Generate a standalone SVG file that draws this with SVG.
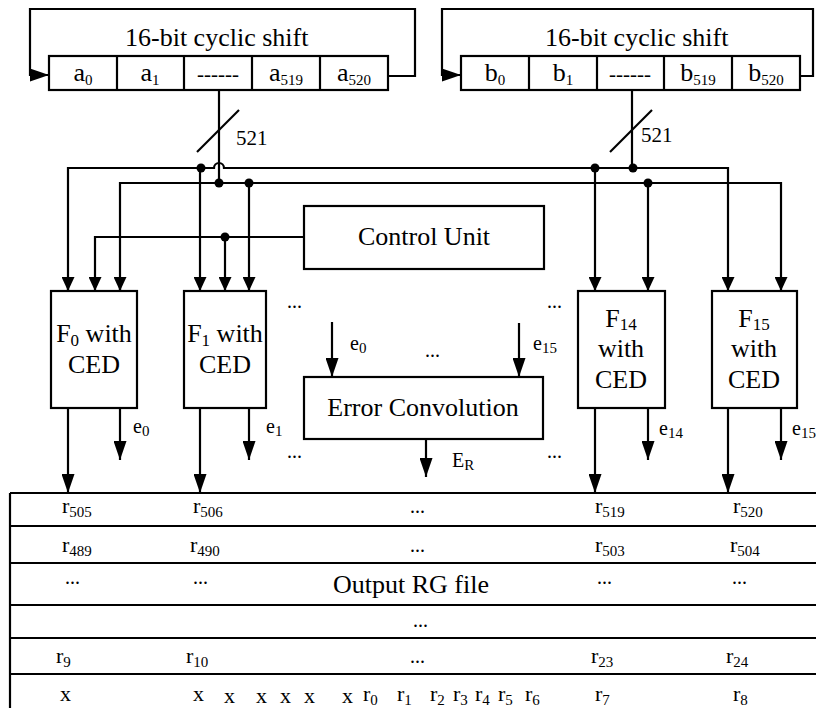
<svg xmlns="http://www.w3.org/2000/svg" width="816" height="708" viewBox="0 0 816 708">
<style>
text{font-family:"Liberation Serif","Times New Roman",serif;fill:#000}
.big{font-size:26px}
.cell{font-size:26px}
.sub{font-size:15px}
.fsub{font-size:17px}
.tb{font-size:22px}
.e{font-size:20px}
.dots{font-size:20px}
.box{fill:#fff;stroke:#000;stroke-width:2.2}
.ln{fill:none;stroke:#000;stroke-width:2.2}
.c{text-anchor:middle}
</style>
<defs>
<marker id="aS" markerUnits="userSpaceOnUse" viewBox="0 0 14 13" markerWidth="14" markerHeight="13" refX="14" refY="6.5" orient="auto"><path d="M0,0L14,6.5L0,13z" fill="#000"/></marker>
<marker id="aL" markerUnits="userSpaceOnUse" viewBox="0 0 19 13" markerWidth="19" markerHeight="13" refX="19" refY="6.5" orient="auto"><path d="M0,0L19,6.5L0,13z" fill="#000"/></marker>
</defs>
<rect width="816" height="708" fill="#fff"/>

<g id="connectors">
  <!-- register loops -->
  <path class="ln" d="M388,76H415V9H30V75H49" marker-end="url(#aL)"/>
  <path class="ln" d="M800,76H813V9H442V75H461" marker-end="url(#aL)"/>
  <!-- bus from registers -->
  <path class="ln" d="M219,90V183"/>
  <line class="ln" x1="197" y1="152" x2="239" y2="110"/>
  <path class="ln" d="M632,90V168"/>
  <line class="ln" x1="610" y1="152" x2="652" y2="110"/>
  <!-- bus line 1 (y=168) with hop -->
  <path class="ln" d="M68,291V168H214A5,5 0 0 1 224,168H728V291" marker-end="url(#aS)"/>
  <!-- bus line 2 (y=183) -->
  <path class="ln" d="M120,291V183H781V291" marker-end="url(#aS)"/>
  <!-- markers at start of the L-shaped paths handled by separate arrows -->
  <line class="ln" x1="68" y1="280" x2="68" y2="291" marker-end="url(#aS)"/>
  <line class="ln" x1="120" y1="280" x2="120" y2="291" marker-end="url(#aS)"/>
  <line class="ln" x1="200" y1="168" x2="200" y2="291" marker-end="url(#aS)"/>
  <line class="ln" x1="249" y1="183" x2="249" y2="291" marker-end="url(#aS)"/>
  <line class="ln" x1="595" y1="168" x2="595" y2="291" marker-end="url(#aS)"/>
  <line class="ln" x1="648" y1="183" x2="648" y2="291" marker-end="url(#aS)"/>
  <!-- control unit line -->
  <path class="ln" d="M304,237H95V291" marker-end="url(#aS)"/>
  <line class="ln" x1="225" y1="237" x2="225" y2="291" marker-end="url(#aS)"/>
  <!-- junction dots -->
  <g fill="#000">
    <circle cx="201" cy="168" r="4.5"/>
    <circle cx="219" cy="183" r="4.5"/>
    <circle cx="249" cy="183" r="4.5"/>
    <circle cx="225" cy="237" r="4.5"/>
    <circle cx="595" cy="168" r="4.5"/>
    <circle cx="633" cy="168" r="4.5"/>
    <circle cx="648" cy="183" r="4.5"/>
  </g>
  <!-- F outputs -->
  <line class="ln" x1="68" y1="408" x2="68" y2="493" marker-end="url(#aL)"/>
  <line class="ln" x1="120" y1="408" x2="120" y2="460" marker-end="url(#aL)"/>
  <line class="ln" x1="200" y1="408" x2="200" y2="493" marker-end="url(#aL)"/>
  <line class="ln" x1="249" y1="408" x2="249" y2="460" marker-end="url(#aL)"/>
  <line class="ln" x1="595" y1="408" x2="595" y2="493" marker-end="url(#aL)"/>
  <line class="ln" x1="648" y1="408" x2="648" y2="460" marker-end="url(#aL)"/>
  <line class="ln" x1="728" y1="408" x2="728" y2="493" marker-end="url(#aL)"/>
  <line class="ln" x1="781" y1="408" x2="781" y2="460" marker-end="url(#aL)"/>
  <!-- error convolution in/out -->
  <line class="ln" x1="332" y1="322" x2="332" y2="377" marker-end="url(#aL)"/>
  <line class="ln" x1="519" y1="323" x2="519" y2="377" marker-end="url(#aL)"/>
  <line class="ln" x1="426" y1="439" x2="426" y2="477" marker-end="url(#aL)"/>
</g>

<g id="regA">
  <rect class="box" x="49" y="56" width="339" height="34"/>
  <path class="ln" d="M117,56V90M184,56V90M252,56V90M320,56V90"/>
  <text class="big" x="125" y="46">16-bit cyclic shift</text>
  <text class="cell c" x="83" y="81">a<tspan class="sub" dy="4">0</tspan></text>
  <text class="cell c" x="150" y="81">a<tspan class="sub" dy="4">1</tspan></text>
  <text class="c" x="218" y="81" style="font-size:21px">------</text>
  <text class="cell c" x="286" y="81">a<tspan class="sub" dy="4">519</tspan></text>
  <text class="cell c" x="354" y="81">a<tspan class="sub" dy="4">520</tspan></text>
</g>

<g id="regB">
  <rect class="box" x="461" y="56" width="339" height="34"/>
  <path class="ln" d="M529,56V90M597,56V90M664,56V90M732,56V90"/>
  <text class="big" x="545" y="46">16-bit cyclic shift</text>
  <text class="cell c" x="495" y="81">b<tspan class="sub" dy="4">0</tspan></text>
  <text class="cell c" x="563" y="81">b<tspan class="sub" dy="4">1</tspan></text>
  <text class="c" x="630" y="81" style="font-size:21px">------</text>
  <text class="cell c" x="698" y="81">b<tspan class="sub" dy="4">519</tspan></text>
  <text class="cell c" x="766" y="81">b<tspan class="sub" dy="4">520</tspan></text>
</g>

<g id="busLabels">
  <text style="font-size:21px" x="236" y="145">521</text>
  <text style="font-size:21px" x="641" y="142">521</text>
</g>

<g id="controlUnit">
  <rect class="box" x="304" y="206" width="240" height="63"/>
  <text class="big c" x="424" y="245">Control Unit</text>
</g>

<g id="F0">
  <rect class="box" x="51" y="291" width="86" height="117"/>
  <text class="big c" x="94" y="342">F<tspan class="fsub" dy="4">0</tspan><tspan dy="-4"> with</tspan></text>
  <text class="big c" x="94" y="373">CED</text>
</g>
<g id="F1">
  <rect class="box" x="184" y="291" width="82" height="117"/>
  <text class="big c" x="225" y="342">F<tspan class="fsub" dy="4">1</tspan><tspan dy="-4"> with</tspan></text>
  <text class="big c" x="225" y="373">CED</text>
</g>
<g id="F14">
  <rect class="box" x="578" y="291" width="87" height="117"/>
  <text class="big c" x="621" y="327">F<tspan class="fsub" dy="3">14</tspan></text>
  <text class="big c" x="621" y="357">with</text>
  <text class="big c" x="621" y="388">CED</text>
</g>
<g id="F15">
  <rect class="box" x="712" y="291" width="85" height="117"/>
  <text class="big c" x="754" y="327">F<tspan class="fsub" dy="3">15</tspan></text>
  <text class="big c" x="754" y="357">with</text>
  <text class="big c" x="754" y="388">CED</text>
</g>

<g id="errorConvolution">
  <rect class="box" x="304" y="377" width="239" height="62"/>
  <text class="big c" x="423" y="416">Error Convolution</text>
</g>

<g id="signalLabels">
  <text class="e" x="133" y="433">e<tspan class="sub" dy="3">0</tspan></text>
  <text class="e" x="266" y="433">e<tspan class="sub" dy="3">1</tspan></text>
  <text class="e" x="659" y="435">e<tspan class="sub" dy="3">14</tspan></text>
  <text class="e" x="792" y="435">e<tspan class="sub" dy="3">15</tspan></text>
  <text class="e" x="350" y="350">e<tspan class="sub" dy="3">0</tspan></text>
  <text class="e" x="533" y="350">e<tspan class="sub" dy="3">15</tspan></text>
  <text class="e" x="452" y="467">E<tspan class="sub" dy="3">R</tspan></text>
  <text class="dots" x="287" y="308">...</text>
  <text class="dots" x="547" y="308">...</text>
  <text class="dots" x="425" y="357">...</text>
  <text class="dots" x="287" y="458">...</text>
  <text class="dots" x="547" y="458">...</text>
</g>

<g id="outputRG">
  <path class="ln" d="M10,493V708M10,493H816M10,526H816M10,563H816M10,605H816M10,638H816M10,674H816"/>
  <text class="big c" x="411" y="593">Output RG file</text>
  <g class="tb">
    <text x="62" y="513">r<tspan class="sub" dy="4">505</tspan></text>
    <text x="193" y="513">r<tspan class="sub" dy="4">506</tspan></text>
    <text class="dots" x="410" y="513">...</text>
    <text x="595" y="513">r<tspan class="sub" dy="4">519</tspan></text>
    <text x="733" y="513">r<tspan class="sub" dy="4">520</tspan></text>

    <text x="62" y="552">r<tspan class="sub" dy="4">489</tspan></text>
    <text x="190" y="552">r<tspan class="sub" dy="4">490</tspan></text>
    <text class="dots" x="410" y="552">...</text>
    <text x="595" y="552">r<tspan class="sub" dy="4">503</tspan></text>
    <text x="730" y="552">r<tspan class="sub" dy="4">504</tspan></text>

    <text class="dots" x="65" y="584">...</text>
    <text class="dots" x="193" y="584">...</text>
    <text class="dots" x="597" y="584">...</text>
    <text class="dots" x="732" y="584">...</text>

    <text class="dots" x="413" y="627">...</text>

    <text x="56" y="663">r<tspan class="sub" dy="4">9</tspan></text>
    <text x="186" y="663">r<tspan class="sub" dy="4">10</tspan></text>
    <text class="dots" x="410" y="663">...</text>
    <text x="591" y="663">r<tspan class="sub" dy="4">23</tspan></text>
    <text x="726" y="663">r<tspan class="sub" dy="4">24</tspan></text>

    <text x="60" y="701">x</text>
    <text x="193" y="701">x</text>
    <text x="224" y="703">x</text>
    <text x="256" y="703">x</text>
    <text x="280" y="703">x</text>
    <text x="304" y="703">x</text>
    <text x="342" y="703">x</text>
    <text x="363" y="701">r<tspan class="sub" dy="4">0</tspan></text>
    <text x="397" y="701">r<tspan class="sub" dy="4">1</tspan></text>
    <text x="430" y="701">r<tspan class="sub" dy="4">2</tspan></text>
    <text x="453" y="701">r<tspan class="sub" dy="4">3</tspan></text>
    <text x="475" y="701">r<tspan class="sub" dy="4">4</tspan></text>
    <text x="498" y="701">r<tspan class="sub" dy="4">5</tspan></text>
    <text x="525" y="701">r<tspan class="sub" dy="4">6</tspan></text>
    <text x="595" y="701">r<tspan class="sub" dy="4">7</tspan></text>
    <text x="733" y="701">r<tspan class="sub" dy="4">8</tspan></text>
  </g>
</g>
</svg>
